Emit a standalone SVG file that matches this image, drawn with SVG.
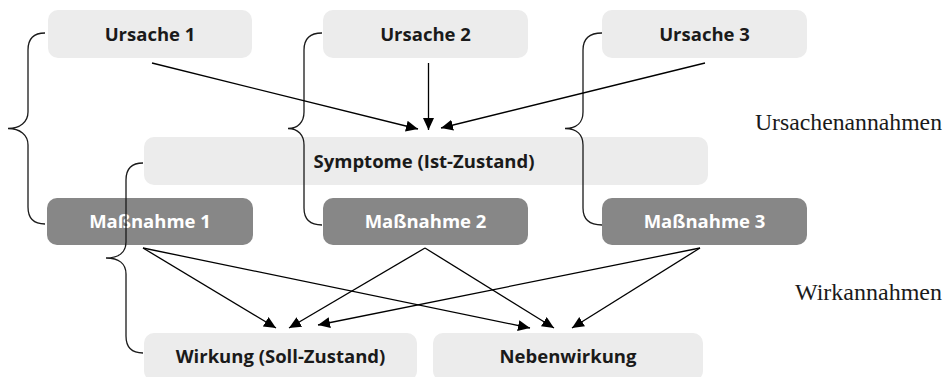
<svg xmlns="http://www.w3.org/2000/svg" width="949" height="377" viewBox="0 0 949 377">
<defs>
<style>
.light{fill:#ececec}
.dark{fill:#878787}
.t{font-family:"Open Sans","DejaVu Sans",sans-serif;font-weight:bold;font-size:18.5px;text-anchor:middle}
.tb{fill:#1a1a1a}
.tw{fill:#ffffff}
.lbl{font-family:"Liberation Serif","Times New Roman",serif;font-size:23px;fill:#1a1a1a}
.c{stroke:#000;stroke-width:1.3;fill:none}
.br{stroke:#1a1a1a;stroke-width:1.3;fill:none}
</style>
<marker id="ah" markerUnits="userSpaceOnUse" markerWidth="14" markerHeight="12" refX="12" refY="5.5" orient="auto">
<path d="M0,0 L12,5.5 L0,11 Z" fill="#000"/>
</marker>
</defs>
<rect width="949" height="377" fill="#ffffff"/>
<g id="ursache1"><rect class="light" x="48" y="10" width="204" height="48" rx="10"/><text class="t tb" x="150" y="41">Ursache 1</text></g>
<g id="ursache2"><rect class="light" x="323" y="10" width="205" height="48" rx="10"/><text class="t tb" x="425.5" y="41">Ursache 2</text></g>
<g id="ursache3"><rect class="light" x="602" y="10" width="205" height="48" rx="10"/><text class="t tb" x="704.5" y="41">Ursache 3</text></g>
<g id="symptome"><rect class="light" x="144" y="137" width="564" height="48" rx="10"/><text class="t tb" x="424" y="168">Symptome (Ist-Zustand)</text></g>
<g id="massnahme1"><rect class="dark" x="47" y="198" width="206" height="47" rx="10"/><text class="t tw" x="150" y="228">Maßnahme 1</text></g>
<g id="massnahme2"><rect class="dark" x="323" y="198" width="205" height="47" rx="10"/><text class="t tw" x="425.5" y="228">Maßnahme 2</text></g>
<g id="massnahme3"><rect class="dark" x="602" y="198" width="205" height="47" rx="10"/><text class="t tw" x="704.5" y="228">Maßnahme 3</text></g>
<g id="wirkung"><rect class="light" x="144" y="333" width="273" height="48" rx="10"/><text class="t tb" x="280.5" y="363">Wirkung (Soll-Zustand)</text></g>
<g id="nebenwirkung"><rect class="light" x="433" y="333" width="270" height="48" rx="10"/><text class="t tb" x="568" y="363">Nebenwirkung</text></g>
<g id="braces">
<path class="br" d="M45,33 C34,33 28,38 28,50 L28,112 C28,122 20,128.5 8,128.5 C20,128.5 28,135 28,145 L28,207 C28,219 34,224 45,224"/>
<path class="br" d="M322,33 C311,33 304,38 304,50 L304,112 C304,122 298,128.5 288,128.5 C298,128.5 304,135 304,145 L304,208 C304,220 311,225 322,225"/>
<path class="br" d="M602,33 C590,33 583,38 583,50 L583,112 C583,122 577,128.5 565,128.5 C577,128.5 583,135 583,145 L583,208 C583,220 590,225 602,225"/>
<path class="br" d="M143,163 C132,163 126,168 126,180 L126,242 C126,252 119,258 106,258 C119,258 126,264 126,274 L126,336 C126,348 132,353 143,353"/>
</g>
<g id="connectors">
<line class="c" x1="152" y1="63" x2="418" y2="129" marker-end="url(#ah)"/>
<line class="c" x1="428.5" y1="63" x2="428.5" y2="130" marker-end="url(#ah)"/>
<line class="c" x1="705" y1="63" x2="441" y2="128" marker-end="url(#ah)"/>
<line class="c" x1="143" y1="248" x2="276" y2="328" marker-end="url(#ah)"/>
<line class="c" x1="425" y1="248" x2="289" y2="328" marker-end="url(#ah)"/>
<line class="c" x1="700" y1="248" x2="318" y2="325" marker-end="url(#ah)"/>
<line class="c" x1="143" y1="248" x2="530" y2="328" marker-end="url(#ah)"/>
<line class="c" x1="425" y1="248" x2="554" y2="328" marker-end="url(#ah)"/>
<line class="c" x1="700" y1="248" x2="572" y2="328" marker-end="url(#ah)"/>
</g>
<g id="labels">
<text class="lbl" x="755" y="130" textLength="187" lengthAdjust="spacingAndGlyphs">Ursachenannahmen</text>
<text class="lbl" x="795" y="300" textLength="147" lengthAdjust="spacingAndGlyphs">Wirkannahmen</text>
</g>
</svg>
